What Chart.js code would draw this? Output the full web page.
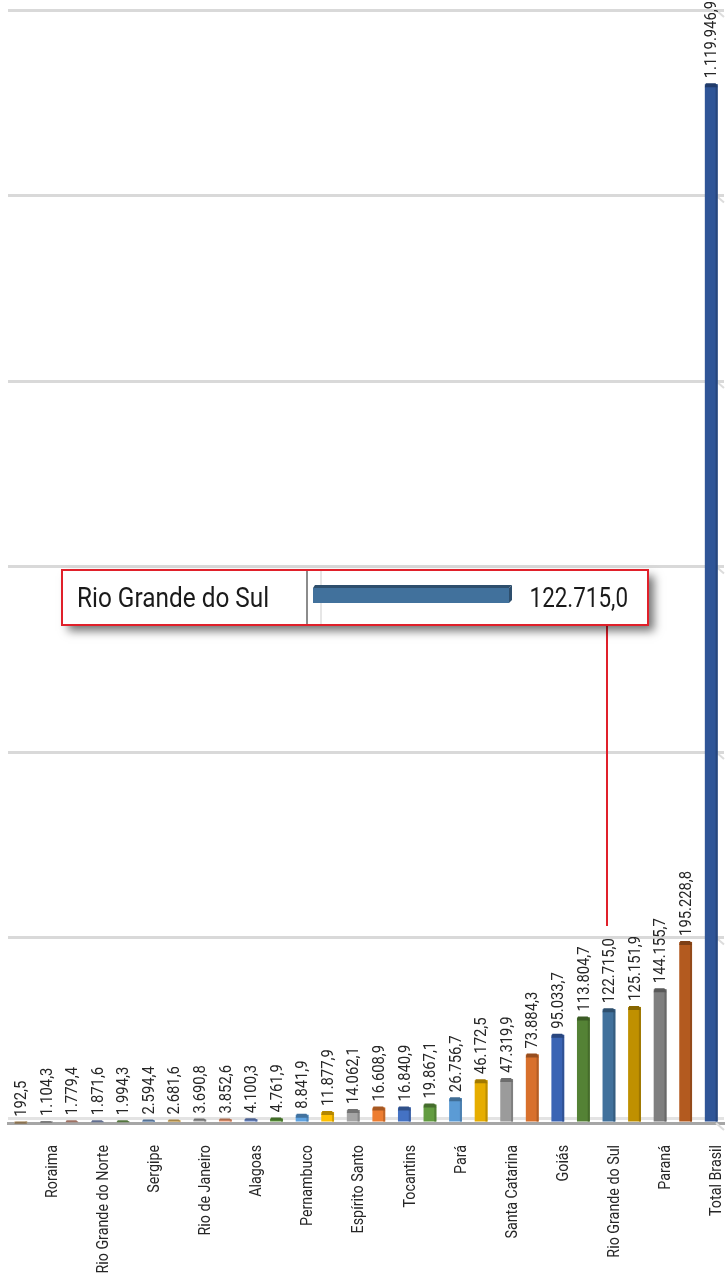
<!DOCTYPE html>
<html>
<head>
<meta charset="utf-8">
<script src="https://cdn.jsdelivr.net/npm/chart.js@4.4.1/dist/chart.umd.min.js"></script>
<style>
  html, body { margin: 0; padding: 0; background: #fff; }
  #chart { display: block; }
</style>
</head>
<body>
<canvas id="chart" width="726" height="1277"></canvas>
<script>
// Estados (só os de índice ímpar aparecem no eixo)
const estados = [
  'Amapá', 'Roraima', 'Acre', 'Rio Grande do Norte', 'Distrito Federal', 'Sergipe',
  'Paraíba', 'Rio de Janeiro', 'Amazonas', 'Alagoas', 'Piauí', 'Pernambuco',
  'Rondônia', 'Espírito Santo', 'Ceará', 'Tocantins', 'Maranhão', 'Pará',
  'Bahia', 'Santa Catarina', 'Mato Grosso do Sul', 'Goiás', 'São Paulo', 'Rio Grande do Sul',
  'Minas Gerais', 'Paraná', 'Mato Grosso', 'Total Brasil'
];
const valores = [
  192.5, 1104.3, 1779.4, 1871.6, 1994.3, 2594.4,
  2681.6, 3690.8, 3852.6, 4100.3, 4761.9, 8841.9,
  11877.9, 14062.1, 16608.9, 16840.9, 19867.1, 26756.7,
  46172.5, 47319.9, 73884.3, 95033.7, 113804.7, 122715.0,
  125151.9, 144155.7, 195228.8, 1119946.9
];
const cores = [
  '#c2a274', '#b4b4b4', '#e3a38f', '#8e9fcd', '#78a85a', '#79a3d6',
  '#f2c266', '#a3a3a3', '#f19a72', '#6f8ed0', '#5f9c3c', '#5ea3e2',
  '#ffc000', '#a5a5a5', '#ed7d31', '#4472c4', '#629c40', '#5b9bd5',
  '#e6ad00', '#9b9b9b', '#d8702c', '#3a64b4', '#548235', '#41719c',
  '#bf9000', '#7f7f7f', '#b35a1f', '#2f5597'
];
const yMax = 1200000;
const yPasso = 200000;
const destaque = 23; // Rio Grande do Sul

const fonte = "Roboto, 'Liberation Sans', sans-serif";

function fmt(v) {
  const [int, dec] = v.toFixed(1).split('.');
  return int.replace(/\B(?=(\d{3})+(?!\d))/g, '.') + ',' + dec;
}

function escurecer(hex, f) {
  const n = parseInt(hex.slice(1), 16);
  const r = Math.round(((n >> 16) & 255) * f);
  const g = Math.round(((n >> 8) & 255) * f);
  const b = Math.round((n & 255) * f);
  return `rgb(${r},${g},${b})`;
}

// texto estreito (fonte condensada simulada), opcionalmente vertical
function texto(ctx, s, x, y, size, sx, align, vertical) {
  ctx.save();
  ctx.translate(x, y);
  if (vertical) ctx.rotate(-Math.PI / 2);
  ctx.scale(sx, 1);
  ctx.font = size + 'px ' + fonte;
  ctx.textAlign = align;
  ctx.textBaseline = 'middle';
  ctx.fillText(s, 0, 0);
  ctx.restore();
}

const extras = {
  id: 'extras',
  beforeDatasetsDraw(chart) {
    // cantos em perspectiva na ponta direita das linhas de grade + piso
    const ctx = chart.ctx;
    const area = chart.chartArea;
    const y = chart.scales.y;
    ctx.save();
    ctx.strokeStyle = '#dcdcdc';
    ctx.lineWidth = 2;
    for (let v = 0; v <= yMax; v += yPasso) {
      const py = y.getPixelForValue(v);
      ctx.beginPath();
      ctx.moveTo(area.right - 8, py);
      ctx.lineTo(area.right, py + 7);
      ctx.stroke();
    }
    ctx.fillStyle = '#e3e3e3';
    ctx.fillRect(area.left, area.bottom - 6, area.right - area.left, 3);
    ctx.restore();
  },
  afterDatasetsDraw(chart) {
    const ctx = chart.ctx;
    const meta = chart.getDatasetMeta(0);
    const xAxis = chart.scales.x;
    ctx.save();
    meta.data.forEach((bar, i) => {
      const w = bar.width;
      const left = bar.x - w / 2;
      const top = bar.y;
      const h = bar.base - bar.y;
      // lateral direita
      ctx.fillStyle = escurecer(cores[i], 0.82);
      ctx.fillRect(left + w - 2, top, 2, h);
      // tampa
      const cap = Math.min(4, Math.max(2, h));
      ctx.fillStyle = escurecer(cores[i], 0.7);
      ctx.beginPath();
      ctx.moveTo(left + 1, top - 1);
      ctx.lineTo(left + w - 2, top - 1);
      ctx.lineTo(left + w, top + cap - 1);
      ctx.lineTo(left, top + cap - 1);
      ctx.closePath();
      ctx.fill();

      ctx.fillStyle = '#262626';
      texto(ctx, fmt(valores[i]), bar.x + 1, top - 6, 17, 0.87, 'left', true);
      if (i % 2 === 1) {
        texto(ctx, estados[i], bar.x + 6, xAxis.top + 22, 17, 0.84, 'right', true);
      }
    });

    // linha do destaque até o rótulo
    const alvo = meta.data[destaque];
    const bx = 62, by = 570, bw = 586, bh = 55;
    ctx.strokeStyle = '#e0202a';
    ctx.lineWidth = 2;
    ctx.beginPath();
    ctx.moveTo(Math.round(alvo.x) - 2, by + bh);
    ctx.lineTo(Math.round(alvo.x) - 2, 926);
    ctx.stroke();

    // caixa com sombra
    ctx.save();
    ctx.shadowColor = 'rgba(0,0,0,0.55)';
    ctx.shadowBlur = 9;
    ctx.shadowOffsetX = 6;
    ctx.shadowOffsetY = 6;
    ctx.fillStyle = '#fff';
    ctx.fillRect(bx, by, bw, bh);
    ctx.restore();

    // divisória
    ctx.fillStyle = '#8c8c8c';
    ctx.fillRect(306, by + 1, 2, bh - 2);
    ctx.fillStyle = '#e6e6e6';
    ctx.fillRect(320, by + 1, 2, bh - 2);

    // mini barra
    const mx = 313, my = 588, mw = 196, mh = 15;
    ctx.fillStyle = cores[destaque];
    ctx.fillRect(mx, my, mw, mh);
    ctx.fillStyle = escurecer(cores[destaque], 0.7);
    ctx.beginPath();
    ctx.moveTo(mx + 2, my - 3);
    ctx.lineTo(mx + mw + 3, my - 3);
    ctx.lineTo(mx + mw, my);
    ctx.lineTo(mx, my);
    ctx.closePath();
    ctx.fill();
    ctx.beginPath();
    ctx.moveTo(mx + mw, my);
    ctx.lineTo(mx + mw + 3, my - 3);
    ctx.lineTo(mx + mw + 3, my + mh - 3);
    ctx.lineTo(mx + mw, my + mh);
    ctx.closePath();
    ctx.fill();

    ctx.fillStyle = '#1a1a1a';
    texto(ctx, estados[destaque], 77, by + bh / 2 + 2, 28, 0.87, 'left', false);
    texto(ctx, fmt(valores[destaque]), 628, by + bh / 2 + 2, 28, 0.8, 'right', false);

    ctx.strokeStyle = '#e0202a';
    ctx.lineWidth = 2;
    ctx.strokeRect(bx, by, bw, bh);
    ctx.restore();
  }
};

new Chart(document.getElementById('chart'), {
  type: 'bar',
  data: {
    labels: estados,
    datasets: [{
      data: valores,
      backgroundColor: cores,
      borderWidth: 0,
      barPercentage: 0.5,
      categoryPercentage: 1
    }]
  },
  options: {
    responsive: false,
    animation: false,
    devicePixelRatio: 1,
    layout: { padding: { left: 8, right: 2, top: 10, bottom: 0 } },
    plugins: {
      legend: { display: false },
      tooltip: { enabled: false }
    },
    scales: {
      x: {
        grid: { display: false },
        border: { display: true, color: '#a6a6a6', width: 3 },
        ticks: { display: false },
        // espaço para os nomes verticais, desenhados no plugin
        afterFit: (scale) => { scale.height = 154; }
      },
      y: {
        min: 0,
        max: yMax,
        ticks: { display: false, stepSize: yPasso },
        grid: { color: '#d9d9d9', lineWidth: 3, drawTicks: false },
        border: { display: false }
      }
    }
  },
  plugins: [extras]
});
</script>
</body>
</html>
